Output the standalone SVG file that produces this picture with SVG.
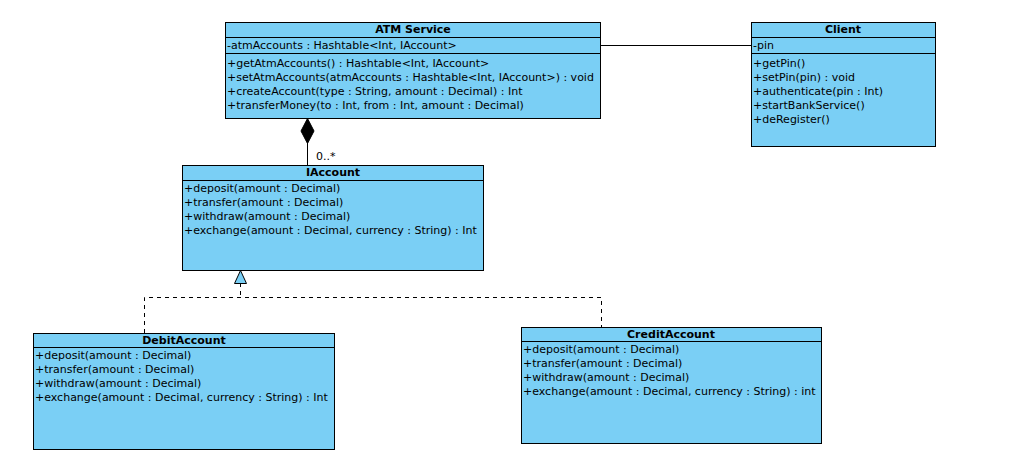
<svg xmlns="http://www.w3.org/2000/svg" width="1029" height="457" viewBox="0 0 1029 457">
<style>
.box{fill:#7acff5;stroke:#000;stroke-width:1}
.sep{stroke:#000;stroke-width:1}
text{font-family:"DejaVu Sans",sans-serif;font-size:11px;fill:#000}
.t{font-weight:bold;text-anchor:middle}
.ln{stroke:#000;stroke-width:1;fill:none}
.dash{stroke:#000;stroke-width:1;fill:none;stroke-dasharray:4,4}
</style>
<rect width="1029" height="457" fill="#fff"/>
<g id="connectors">
<line class="ln" x1="600.5" y1="45.5" x2="751.5" y2="45.5"/>
<path class="ln" d="M307.5,143 V165"/>
<polygon points="307.5,118.5 314,131 307.5,143.5 301,131" fill="#000" stroke="#000"/>
<text x="316" y="160">0..*</text>
<path class="dash" d="M240.5,283 V297.5 M144.5,333 V297.5 H601.5 V327"/>
<polygon points="240.5,270.5 246.5,283.5 234.5,283.5" fill="#7acff5" stroke="#000"/>
</g>
<g id="atm-service">
<rect class="box" x="225.5" y="22.5" width="375" height="96"/>
<line class="sep" x1="225.5" y1="37.5" x2="600.5" y2="37.5"/>
<line class="sep" x1="225.5" y1="53.5" x2="600.5" y2="53.5"/>
<text class="t" x="413" y="33">ATM Service</text>
<text x="227" y="49">-atmAccounts : Hashtable&lt;Int, IAccount&gt;</text>
<text x="227" y="67">+getAtmAccounts() : Hashtable&lt;Int, IAccount&gt;</text>
<text x="227" y="81">+setAtmAccounts(atmAccounts : Hashtable&lt;Int, IAccount&gt;) : void</text>
<text x="227" y="95">+createAccount(type : String, amount : Decimal) : Int</text>
<text x="227" y="109">+transferMoney(to : Int, from : Int, amount : Decimal)</text>
</g>
<g id="client">
<rect class="box" x="751.5" y="22.5" width="184" height="124"/>
<line class="sep" x1="751.5" y1="37.5" x2="935.5" y2="37.5"/>
<line class="sep" x1="751.5" y1="53.5" x2="935.5" y2="53.5"/>
<text class="t" x="843" y="33">Client</text>
<text x="753" y="49">-pin</text>
<text x="753" y="67">+getPin()</text>
<text x="753" y="81">+setPin(pin) : void</text>
<text x="753" y="95">+authenticate(pin : Int)</text>
<text x="753" y="109">+startBankService()</text>
<text x="753" y="123">+deRegister()</text>
</g>
<g id="iaccount">
<rect class="box" x="182.5" y="165.5" width="301" height="105"/>
<line class="sep" x1="182.5" y1="180.5" x2="483.5" y2="180.5"/>
<text class="t" x="333" y="176">IAccount</text>
<text x="184" y="192">+deposit(amount : Decimal)</text>
<text x="184" y="206">+transfer(amount : Decimal)</text>
<text x="184" y="220">+withdraw(amount : Decimal)</text>
<text x="184" y="234">+exchange(amount : Decimal, currency : String) : Int</text>
</g>
<g id="debit-account">
<rect class="box" x="33.5" y="333.5" width="301" height="116"/>
<line class="sep" x1="33.5" y1="347.5" x2="334.5" y2="347.5"/>
<text class="t" x="184" y="344">DebitAccount</text>
<text x="35" y="359">+deposit(amount : Decimal)</text>
<text x="35" y="373">+transfer(amount : Decimal)</text>
<text x="35" y="387">+withdraw(amount : Decimal)</text>
<text x="35" y="401">+exchange(amount : Decimal, currency : String) : Int</text>
</g>
<g id="credit-account">
<rect class="box" x="521.5" y="327.5" width="300" height="116"/>
<line class="sep" x1="521.5" y1="341.5" x2="821.5" y2="341.5"/>
<text class="t" x="671" y="338">CreditAccount</text>
<text x="523" y="353">+deposit(amount : Decimal)</text>
<text x="523" y="367">+transfer(amount : Decimal)</text>
<text x="523" y="381">+withdraw(amount : Decimal)</text>
<text x="523" y="395">+exchange(amount : Decimal, currency : String) : int</text>
</g>
</svg>
